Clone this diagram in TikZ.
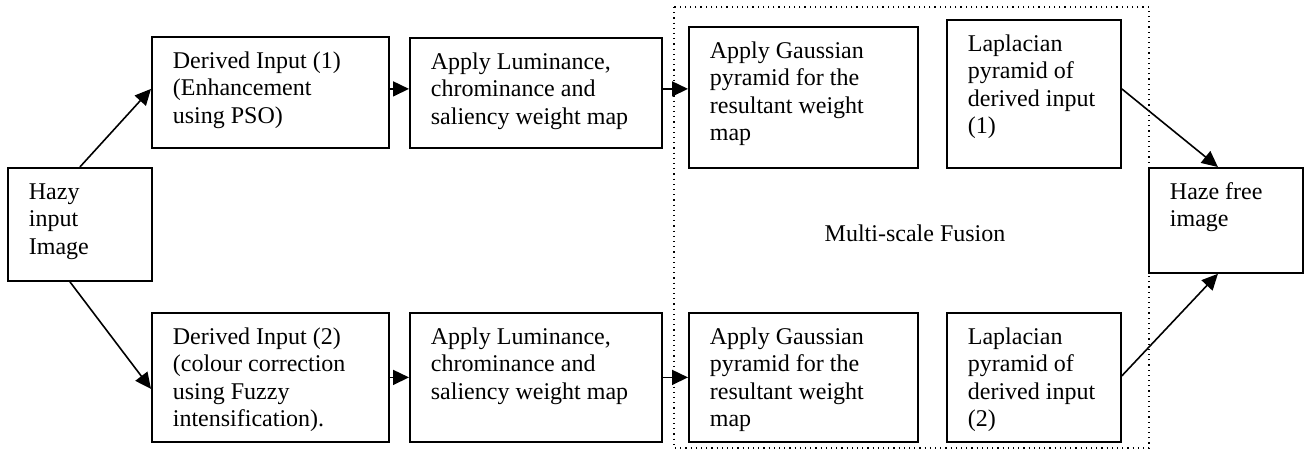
\documentclass[tikz,border=0pt]{standalone}
\usepackage{fontspec}
\setmainfont{Liberation Serif}
\usetikzlibrary{arrows.meta,calc}
\newcommand{\bxt}[3]{\hspace*{10.5pt}\parbox[c][#2][t]{#1}{\raggedright\rule{0pt}{15.7pt}#3}}
\begin{document}
\begin{tikzpicture}[x=0.5pt,y=-0.5pt,
  bx/.style={draw,line width=0.9pt,inner sep=0pt,anchor=north west,font=\fontsize{12}{13.7}\selectfont},
  arr/.style={line width=0.8pt,-{Triangle[length=8pt,width=7.5pt]}}]
\useasboundingbox (0,0) rectangle (1309,449);
\draw[dotted,line width=0.6pt] (674,7) rectangle (1149,448);
\node[bx] (hazy) at (7,167) {\bxt{61.5pt}{56.5pt}{Hazy\\input\\Image}};
\node[bx] (d1) at (151,36) {\bxt{108pt}{55.5pt}{Derived Input (1)\\(Enhancement\\using PSO)}};
\node[bx] (d2) at (151,312) {\bxt{108pt}{64.5pt}{Derived Input (2)\\(colour correction\\using Fuzzy\\intensification).}};
\node[bx] (l1) at (409,37) {\bxt{115.5pt}{55pt}{Apply Luminance,\\chrominance and\\saliency weight map}};
\node[bx] (l2) at (409,312) {\bxt{115.5pt}{64.5pt}{Apply Luminance,\\chrominance and\\saliency weight map}};
\node[bx] (g1) at (688,26) {\bxt{104pt}{70.5pt}{Apply Gaussian\\pyramid for the\\resultant weight\\map}};
\node[bx] (g2) at (688,312) {\bxt{104pt}{64.5pt}{Apply Gaussian\\pyramid for the\\resultant weight\\map}};
\node[bx] (p1) at (946,19) {\bxt{76.5pt}{74pt}{Laplacian\\pyramid of\\derived input\\(1)}};
\node[bx] (p2) at (946,312) {\bxt{76.5pt}{64.5pt}{Laplacian\\pyramid of\\derived input\\(2)}};
\node[bx] (hf) at (1148,167) {\bxt{66.5pt}{52.5pt}{Haze free\\image}};
\node[font=\fontsize{12}{13.7}\selectfont] (msf) at (915,233) {Multi-scale Fusion};
\draw[arr] (hazy.north) -- ($(d1.west)+(0,-3.5)$);
\draw[arr] ($(hazy.south)+(-10,0)$) -- ($(d2.west)+(0,11.5)$);
\draw[arr] ($(d1.east)+(0,-3.5)$) -- ($(l1.west)+(0,-4)$);
\draw[arr] (d2.east) -- (l2.west);
\draw[arr] ($(l1.east)+(0,-4)$) -- ($(g1.west)+(0,-8.5)$);
\draw[arr] (l2.east) -- (g2.west);
\draw[arr] ($(p1.east)+(0,-5)$) -- ($(hf.north)+(-8,0)$);
\draw[arr] ($(p2.east)+(0,-1.5)$) -- ($(hf.south)+(-8,0)$);
\end{tikzpicture}
\end{document}
